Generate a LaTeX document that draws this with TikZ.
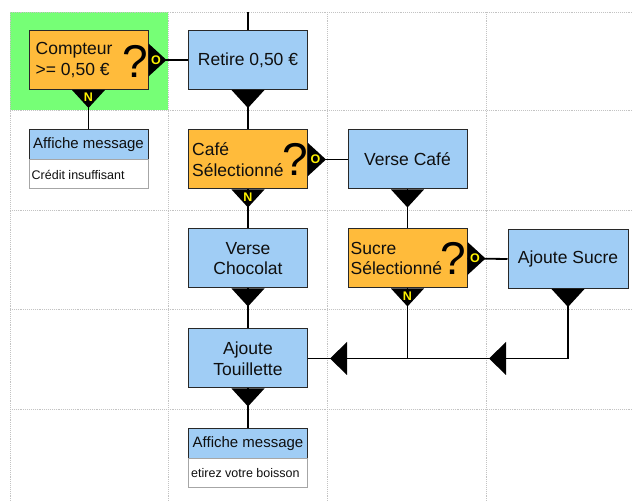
\documentclass[tikz,border=0pt]{standalone}
\usepackage{fontspec}
\setmainfont{Liberation Sans}
\usetikzlibrary{calc}
\definecolor{orangeD}{RGB}{255,187,59}
\definecolor{blueA}{RGB}{160,205,245}
\definecolor{greenC}{RGB}{118,255,118}
\definecolor{gridc}{RGB}{195,195,195}
\definecolor{boxline}{RGB}{40,40,40}
\definecolor{txt}{RGB}{15,15,15}
\newcommand\bigtxt{\fontsize{17.5}{20.5}\selectfont}
\newcommand\medtxt{\fontsize{15}{17}\selectfont}
\newcommand\smalltxt{\fontsize{12.5}{14}\selectfont}
\newcommand\qtxt{\fontsize{46}{46}\selectfont}
\newcommand\yntxt{\fontsize{12.5}{12.5}\selectfont\bfseries}
\tikzset{
  box/.style={rectangle, draw=boxline, line width=1pt, minimum width=119pt, minimum height=59pt, inner sep=0pt, text=txt},
  decision/.style={box, fill=orangeD},
  action/.style={box, fill=blueA, font=\bigtxt, align=center},
  dtext/.style={anchor=west, inner sep=0pt, font=\bigtxt, align=left, text=txt},
  qmark/.style={inner sep=0pt, font=\qtxt, text=black},
  msghead/.style={rectangle, draw=boxline, line width=1pt, fill=blueA, minimum width=119pt, minimum height=30pt, inner sep=0pt, font=\medtxt, text=txt},
  msgbody/.style={rectangle, draw=gray!70, line width=1pt, fill=white, minimum width=119pt, minimum height=29pt, inner sep=0pt},
  msgtext/.style={anchor=west, inner sep=0pt, font=\smalltxt, text=txt},
  conn/.style={line width=1.8pt, black},
  gridline/.style={gridc, densely dotted, line width=0.9pt},
  yn/.style={inner sep=0pt, font=\yntxt, text=yellow},
}
\begin{document}
\begin{tikzpicture}[x=1pt, y=-1pt]
\useasboundingbox (0,0) rectangle (633,502);
\fill[white] (0,0) rectangle (633,502);
% green cell
\fill[greenC] (10,12) rectangle (168,110);
% grid
\foreach \gx in {10,168,327,486} { \draw[gridline] (\gx,12) -- (\gx,502); }
\foreach \gy in {12,110,210,309,409} { \draw[gridline] (10,\gy) -- (633,\gy); }

% nodes
\node[decision] (cmp) at (88.5,60) {};
\node[dtext] (cmpT) at ($(cmp.west)+(7,0)$) {Compteur\\>= 0,50 €};
\node[qmark] (cmpQ) at (135.5,61) {?};

\node[action] (ret) at (248,60) {Retire 0,50 €};

\node[msghead] (aff1) at (88.5,145) {Affiche message};
\node[msgbody] (aff1b) at (88.5,174.5) {};
\node[msgtext] (aff1t) at ($(aff1b.west)+(3,0)$) {Crédit insuffisant};

\node[decision] (caf) at (248,159.5) {};
\node[dtext] (cafT) at ($(caf.west)+(4,0)$) {Café\\Sélectionné};
\node[qmark] (cafQ) at (295,159.5) {?};

\node[action] (vcaf) at (407.5,159.5) {Verse Café};

\node[action] (choc) at (248,258.5) {Verse\\Chocolat};

\node[decision] (suc) at (407.5,258.5) {};
\node[dtext] (sucT) at ($(suc.west)+(3,0)$) {Sucre\\Sélectionné};
\node[qmark] (sucQ) at (453.5,258.5) {?};

\node[action, minimum width=120pt] (asuc) at (568,259) {Ajoute Sucre};

\node[action] (tou) at (248,358.5) {Ajoute\\Touillette};

\node[msghead] (aff2) at (248,443.5) {Affiche message};
\node[msgbody] (aff2b) at (248,473) {};
\node[msgtext] (aff2t) at ($(aff2b.west)+(3,0)$) {etirez votre boisson};

\coordinate (topin) at (248,12);
\coordinate (join) at (suc.south |- tou.east);
\coordinate (corner) at (asuc.south |- tou.east);

% connectors
\draw[conn] (topin) -- (ret.north);
\draw[conn] (cmp.east) -- (ret.west);
\draw[conn] (cmp.south) -- (aff1.north);
\draw[conn] (ret.south) -- (caf.north);
\draw[conn] (caf.east) -- (vcaf.west);
\draw[conn] (caf.south) -- (choc.north);
\draw[conn] (vcaf.south) -- (suc.north);
\draw[conn] (suc.east) -- (asuc.west);
\draw[conn] (choc.south) -- (tou.north);
\draw[conn] (tou.south) -- (aff2.north);
\draw[conn] (suc.south) -- (join);
\draw[conn] (asuc.south) -- (corner) -- (tou.east);

% down triangles
\foreach \n in {cmp,ret,caf,vcaf,choc,suc,asuc,tou} {
  \fill[black] ($(\n.south)+(-16.5,0)$) -- ++(33,0) -- ++(-16.5,18) -- cycle;
}
% right triangles
\foreach \n in {cmp,caf,suc} {
  \fill[black] ($(\n.east)+(0,-16.5)$) -- ++(0,33) -- ++(18,-16.5) -- cycle;
}
% left-pointing arrowheads on the return line
\fill[black] ($(tou.east)+(22,0)$) -- ++(17,-16.5) -- ++(0,33) -- cycle;
\fill[black] ($(corner)+(-79,0)$) -- ++(17,-16.5) -- ++(0,33) -- cycle;

% yes/no labels
\node[yn] (cmpN) at ($(cmp.south)+(0,7.5)$) {N};
\node[yn] (cmpO) at ($(cmp.east)+(7.5,0)$) {O};
\node[yn] (cafN) at ($(caf.south)+(0,7.5)$) {N};
\node[yn] (cafO) at ($(caf.east)+(7.5,0)$) {O};
\node[yn] (sucN) at ($(suc.south)+(0,7.5)$) {N};
\node[yn] (sucO) at ($(suc.east)+(7.5,0)$) {O};
\end{tikzpicture}
\end{document}
